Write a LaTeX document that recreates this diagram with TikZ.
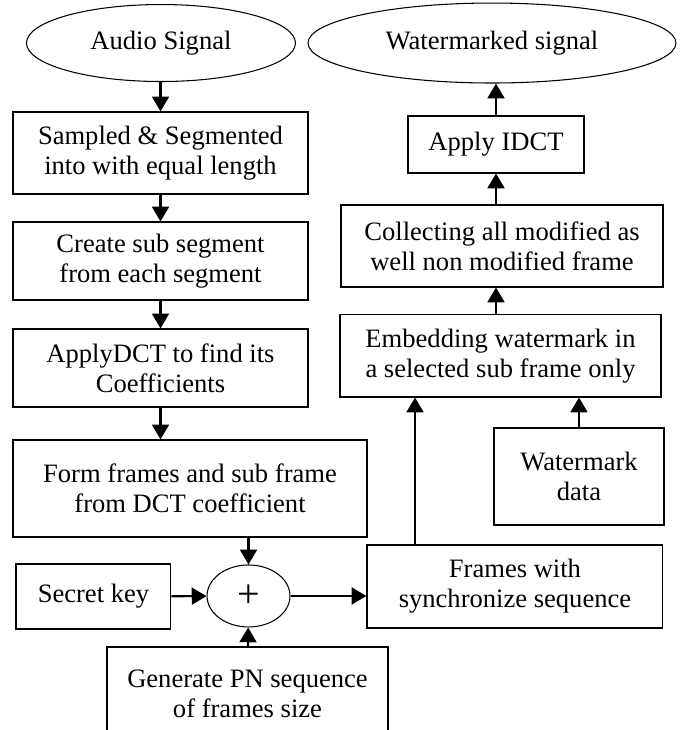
\documentclass[tikz,border=0pt]{standalone}
\usepackage{fontspec}
\setmainfont{Liberation Serif}
\usetikzlibrary{arrows.meta,shapes.geometric}

\tikzset{
    box/.style={draw, rectangle, align=center, inner sep=2pt, line width=0.5pt,
        font=\fontsize{12.6}{14.2}\selectfont},
    oval/.style={draw, ellipse, align=center, inner sep=0pt, line width=0.5pt,
        font=\fontsize{12.6}{14.2}\selectfont},
    arr/.style={line width=1pt, -{Triangle[length=7pt,width=8pt]}},
}

\begin{document}
\begin{tikzpicture}
        \clip (0,0) rectangle (11.367,-12.167);
        % left column
        \node[oval, minimum width=4.483cm, minimum height=1.283cm] (audio) at (2.683,-0.717) {Audio Signal};
        \node[box, minimum width=4.917cm, minimum height=1.367cm] (sampled) at (2.675,-2.55) {Sampled \& Segmented\\into with equal length};
        \node[box, minimum width=4.917cm, minimum height=1.3cm] (subseg) at (2.675,-4.35) {Create sub segment\\from each segment};
        \node[box, minimum width=4.917cm, minimum height=1.3cm] (dct) at (2.675,-6.133) {ApplyDCT to find its\\Coefficients};
        \node[box, minimum width=5.9cm, minimum height=1.617cm] (form) at (3.167,-8.142) {Form frames and sub frame\\from DCT coefficient};
        \node[box, minimum width=2.583cm, minimum height=1.083cm] (key) at (1.558,-9.942) {Secret key};
        \node[oval, minimum width=1.383cm, minimum height=1.033cm, font=\fontsize{19}{20}\selectfont] (plus) at (4.142,-9.933) {+};
        \node[box, minimum width=4.683cm, minimum height=1.567cm] (pn) at (4.125,-11.567) {Generate PN sequence\\of frames size};
        % right column
        \node[oval, minimum width=6.133cm, minimum height=1.333cm] (wsig) at (8.2,-0.717) {Watermarked signal};
        \node[box, minimum width=2.933cm, minimum height=0.95cm] (idct) at (8.267,-2.408) {Apply IDCT};
        \node[box, minimum width=5.367cm, minimum height=1.367cm] (collect) at (8.367,-4.1) {Collecting all modified as\\well non modified frame};
        \node[box, minimum width=5.35cm, minimum height=1.367cm] (embed) at (8.342,-5.933) {Embedding watermark in\\a selected sub frame only};
        \node[box, minimum width=2.833cm, minimum height=1.617cm] (wdata) at (9.65,-7.942) {Watermark\\data};
        \node[box, minimum width=4.933cm, minimum height=1.383cm] (sync) at (8.583,-9.775) {Frames with\\synchronize sequence};
        \coordinate (up) at (6.917,-9.083);

        \draw[arr] (audio.south -| sampled) -- (sampled);
        \draw[arr] (sampled) -- (subseg);
        \draw[arr] (subseg) -- (dct);
        \draw[arr] (dct.south) -- (dct.south |- form.north);
        \draw[arr] (plus.north |- form.south) -- (plus);
        \draw[arr] (key) -- (plus);
        \draw[arr] (pn) -- (plus);
        \draw[arr] (plus.east) -- (plus.east -| sync.west);
        \draw[arr] (up) -- (up |- embed.south);
        \draw[arr] (wdata) -- (wdata |- embed.south);
        \draw[arr] (embed.north -| idct) -- (collect.south -| idct);
        \draw[arr] (collect.north -| idct) -- (idct);
        \draw[arr] (idct) -- (idct |- wsig.south);
    \end{tikzpicture}
\end{document}
